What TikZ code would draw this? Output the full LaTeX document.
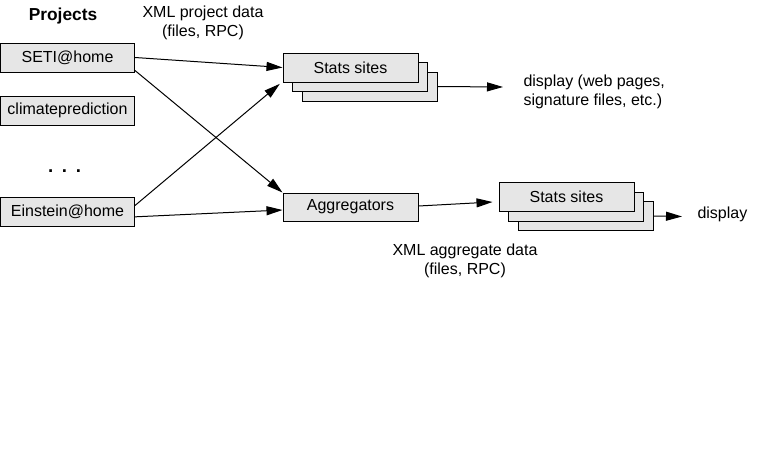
\documentclass[tikz,border=0pt]{standalone}
\usepackage{fontspec}
\setmainfont{Liberation Sans}
\usetikzlibrary{arrows.meta}
\definecolor{boxgray}{RGB}{230,230,230}

\begin{document}
\begin{tikzpicture}[x=0.75pt,y=-0.75pt,
    line width=0.75pt,
    >={Triangle[length=12pt,width=6.75pt]},
    every node/.style={font=\fontsize{12}{14}\selectfont},
    projbox/.style={draw=black,fill=boxgray,minimum width=100.5pt,minimum height=21.75pt,inner sep=0pt},
    sitebox/.style={draw=black,fill=boxgray,minimum width=101.25pt,minimum height=21.75pt,inner sep=0pt},
    label/.style={inner sep=0pt,align=center}]
    \useasboundingbox (0,0) rectangle (757,475);

    % Projects column
    \node[label,font=\fontsize{13}{15}\selectfont\bfseries] (projects) at (63,16) {Projects};
    \node[projbox] (seti) at (67.5,57.5) {SETI@home};
    \node[projbox] (climate) at (67.5,110.5) {climateprediction};
    \node[label,font=\fontsize{14}{16}\selectfont\bfseries] (dots) at (64.5,171) {.\hskip 6.5pt.\hskip 6.5pt.};
    \node[projbox] (einstein) at (67.5,211.5) {Einstein@home};

    % XML project data
    \node[label] (xmlproj) at (203,23) {XML project data\\(files, RPC)};

    % Stats sites (upper stack)
    \node[sitebox] (statsAc) at (370,86.5) {};
    \node[sitebox] (statsAb) at (360,77) {};
    \node[sitebox] (statsA) at (350.5,67.5) {Stats sites};

    % Aggregators
    \node[sitebox,minimum height=21pt] (agg) at (350.5,207) {Aggregators};

    % Stats sites (lower stack)
    \node[sitebox] (statsBc) at (585.5,216) {};
    \node[sitebox] (statsBb) at (576,206.5) {};
    \node[sitebox] (statsB) at (566.5,197) {Stats sites};

    % Display texts
    \node[label,anchor=west,align=left] (dispA) at (523,92) {display (web pages,\\signature files, etc.)};
    \node[label,anchor=west] (dispB) at (697,214) {display};
    \node[label] (xmlagg) at (465,261) {XML aggregate data\\(files, RPC)};
    \coordinate (endA) at (503,87);
    \coordinate (endB) at (682,216.5);

    % Connectors
    \draw[->] (seti.east) -- (statsA.west);
    \draw[->] ([yshift=1.5pt]seti.south east) -- (agg.north west);
    \draw[->] ([yshift=-6.75pt]einstein.north east) -- ([xshift=-2pt,yshift=-1pt]statsA.south west);
    \draw[->] ([yshift=-4pt]einstein.east) -- ([yshift=-2.25pt]agg.west);
    \draw[->] (statsAc.east) -- (endA);
    \draw[->] ([yshift=0.75pt]agg.east) -- ([xshift=-4.5pt,yshift=-3.75pt]statsB.west);
    \draw[->] (statsBc.east) -- (endB);
\end{tikzpicture}
\end{document}
